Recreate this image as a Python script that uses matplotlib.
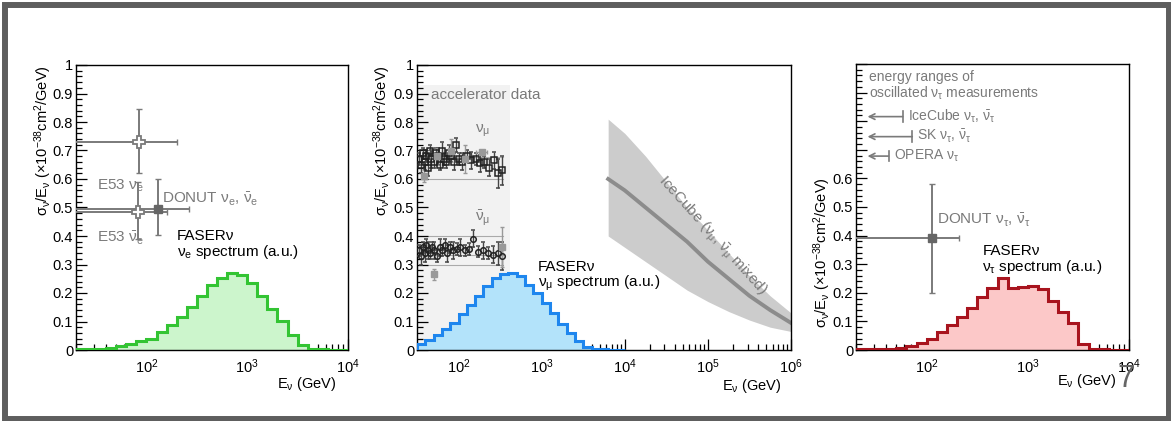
import numpy as np
import matplotlib.pyplot as plt
from matplotlib.ticker import LogLocator, NullFormatter, MultipleLocator, FuncFormatter
from matplotlib.patches import Rectangle

plt.rcParams['font.family'] = ['Liberation Sans', 'DejaVu Sans']
plt.rcParams['mathtext.fontset'] = 'custom'
plt.rcParams['mathtext.rm'] = 'Liberation Sans'
plt.rcParams['mathtext.it'] = 'Liberation Sans:italic'
plt.rcParams['mathtext.bf'] = 'Liberation Sans:bold'

W, H = 1171, 421

# FASERnu spectra (a.u.), 10 log bins per decade
nue_edges_exp = np.arange(13, 41) / 10.0
nue_spec = [0.003, 0.004, 0.005, 0.008, 0.013, 0.020, 0.030, 0.039, 0.064, 0.087,
            0.117, 0.151, 0.190, 0.229, 0.253, 0.269, 0.263, 0.234, 0.190, 0.144,
            0.102, 0.052, 0.016, 0.004, 0.002, 0.001, 0.001]
numu_edges_exp = np.arange(15, 41) / 10.0
numu_spec = [0.020, 0.036, 0.052, 0.072, 0.096, 0.127, 0.157, 0.190, 0.225, 0.253,
             0.268, 0.270, 0.259, 0.229, 0.199, 0.165, 0.129, 0.090, 0.060, 0.030,
             0.012, 0.004, 0.002, 0.001, 0.001]
nutau_edges_exp = np.arange(13, 41) / 10.0
nutau_spec = [0.002, 0.003, 0.004, 0.005, 0.008, 0.015, 0.025, 0.040, 0.063, 0.087,
              0.114, 0.147, 0.187, 0.217, 0.253, 0.218, 0.221, 0.223, 0.212, 0.170,
              0.133, 0.096, 0.020, 0.005, 0.002, 0.001, 0.001]

# panel 1: E53 nu_e, E53 nubar_e, DONUT
e_E = [85, 83, 130]
e_xs = [0.73, 0.485, 0.495]
e_Elo = [10, 10, 10]
e_Ehi = [200, 160, 265]
e_xslo = [0.62, 0.39, 0.405]
e_xshi = [0.845, 0.59, 0.60]

# panel 2: accelerator nu_mu / nubar_mu data
numu_E = [33, 35, 37, 39, 41, 43, 45, 47, 50, 53, 56, 59, 63, 67, 71, 76, 81, 87,
          93, 100, 110, 125, 140, 160, 180, 205, 235, 265, 300, 330]
numu_xs = [0.67, 0.65, 0.69, 0.66, 0.68, 0.64, 0.70, 0.67, 0.66, 0.69, 0.68, 0.65,
           0.70, 0.67, 0.66, 0.69, 0.68, 0.66, 0.72, 0.67, 0.66, 0.68, 0.665, 0.67,
           0.655, 0.66, 0.64, 0.665, 0.62, 0.63]
numu_err = [0.02, 0.03, 0.02, 0.03, 0.02, 0.03, 0.02, 0.03, 0.02, 0.02, 0.03, 0.02,
            0.03, 0.02, 0.02, 0.03, 0.02, 0.03, 0.025, 0.02, 0.03, 0.02, 0.03, 0.02,
            0.03, 0.02, 0.03, 0.03, 0.05, 0.05]
numu2_E = [38, 55, 80, 120, 190]
numu2_xs = [0.61, 0.68, 0.70, 0.67, 0.695]
numu2_err = [0.02, 0.03, 0.04, 0.05, 0.0]
numu2_Eerr = [0, 0, 0, 0, 30]
nubar_E = [33, 35, 37, 39, 41, 43, 45, 48, 51, 55, 59, 63, 68, 73, 79, 86, 95, 105,
           118, 135, 150, 170, 195, 225, 260, 300, 330]
nubar_xs = [0.35, 0.33, 0.36, 0.34, 0.37, 0.35, 0.34, 0.36, 0.35, 0.33, 0.36, 0.35,
            0.37, 0.34, 0.36, 0.35, 0.355, 0.36, 0.35, 0.355, 0.39, 0.345, 0.35,
            0.34, 0.335, 0.34, 0.33]
nubar_err = [0.02, 0.03, 0.02, 0.03, 0.02, 0.03, 0.02, 0.02, 0.03, 0.02, 0.03, 0.02,
             0.02, 0.03, 0.02, 0.03, 0.02, 0.03, 0.02, 0.02, 0.03, 0.02, 0.03, 0.02,
             0.03, 0.04, 0.05]
nubar2_E = [50, 330]
nubar2_xs = [0.265, 0.36]
nubar2_err = [0.02, 0.07]
acc_lines = [0.6, 0.677, 0.3, 0.334, 0.4]

# IceCube band
ic_logE = [3.8, 4.0, 4.25, 4.5, 4.75, 5.0, 5.25, 5.5, 5.75, 6.0]
ic_hi = [0.81, 0.76, 0.68, 0.59, 0.50, 0.42, 0.34, 0.26, 0.19, 0.13]
ic_mid = [0.60, 0.56, 0.50, 0.44, 0.38, 0.31, 0.25, 0.19, 0.14, 0.095]
ic_lo = [0.40, 0.36, 0.31, 0.26, 0.21, 0.17, 0.135, 0.105, 0.08, 0.065]

# panel 3: oscillated nu_tau ranges and DONUT
osc_names = ['IceCube ν$_\\mathregular{τ}$, $\\mathregular{\\bar{ν}_τ}$',
             'SK ν$_\\mathregular{τ}$, $\\mathregular{\\bar{ν}_τ}$',
             'OPERA ν$_\\mathregular{τ}$']
osc_Elo = [26, 26, 26]
osc_Ehi = [58, 72, 42]
osc_y = [0.816, 0.746, 0.678]
tau_E, tau_xs = 113, 0.39
tau_Elo, tau_Ehi = 10, 210
tau_xslo, tau_xshi = 0.20, 0.58

GRAY = '#7a7a7a'
YLABEL = 'σ$_\\mathregular{ν}$/E$_\\mathregular{ν}$ (×10$^\\mathregular{-38}$cm$^\\mathregular{2}$/GeV)'


def px_axes(x0, y0, x1, y1):
    return [x0 / W, 1 - y1 / H, (x1 - x0) / W, (y1 - y0) / H]


def style(ax, xlim, ylabmax):
    ax.set_xscale('log')
    ax.set_xlim(*xlim)
    ax.set_ylim(0, 1)
    ax.yaxis.set_major_locator(MultipleLocator(0.1))
    ax.yaxis.set_minor_locator(MultipleLocator(0.02))
    ax.yaxis.set_major_formatter(FuncFormatter(
        lambda v, p: ('%g' % round(v, 2)) if v <= ylabmax + 1e-6 else ''))
    ax.xaxis.set_major_locator(LogLocator(base=10, numticks=20))
    ax.xaxis.set_minor_locator(LogLocator(base=10, subs=np.arange(2, 10), numticks=50))
    ax.xaxis.set_minor_formatter(NullFormatter())
    ax.tick_params(which='both', direction='in', top=False, right=False,
                   labelsize=10.5, width=0.9)
    ax.tick_params(which='major', length=8)
    ax.tick_params(which='minor', length=4)
    ax.tick_params(axis='y', pad=2)
    ax.tick_params(axis='x', pad=5)
    for s in ax.spines.values():
        s.set_linewidth(1.0)


def spectrum(ax, edges_exp, vals, edge, fill):
    edges = 10 ** edges_exp
    ax.stairs(vals, edges, fill=True, color=fill, zorder=2)
    ax.stairs(vals, edges, color=edge, lw=2.2, zorder=3)


fig = plt.figure(figsize=(W / 100, H / 100), dpi=100)

# ---- panel 1: nu_e
ax1 = fig.add_axes(px_axes(76, 65, 348, 350))
style(ax1, (20, 1e4), 1.0)
spectrum(ax1, nue_edges_exp, nue_spec, '#33c433', '#ccf5cc')
e = np.array(e_E); xs = np.array(e_xs)
ax1.errorbar(e, xs, xerr=[e - np.array(e_Elo), np.array(e_Ehi) - e],
             yerr=[xs - np.array(e_xslo), np.array(e_xshi) - xs],
             fmt='none', ecolor=GRAY, elinewidth=1.4, capsize=2.5, zorder=4)
ax1.plot(e[:2], xs[:2], 'P', ms=8, mfc='white', mec=GRAY, mew=1.3, zorder=5)
ax1.plot(e[2:], xs[2:], 's', ms=6, color='#666666', zorder=5)
ax1.text(32, 0.575, 'E53 ν$_\\mathregular{e}$', color=GRAY, fontsize=11, va='center')
ax1.text(32, 0.39, 'E53 $\\mathregular{\\bar{ν}_e}$', color=GRAY, fontsize=11, va='center')
ax1.text(143, 0.53, 'DONUT ν$_\\mathregular{e}$, $\\mathregular{\\bar{ν}_e}$', color=GRAY,
         fontsize=11, va='center')
ax1.text(200, 0.40, 'FASERν', fontsize=11, va='center')
ax1.text(200, 0.345, 'ν$_\\mathregular{e}$ spectrum (a.u.)', fontsize=11, va='center')

# ---- panel 2: nu_mu
ax2 = fig.add_axes(px_axes(417, 65, 791, 350))
style(ax2, (10 ** 1.5, 1e6), 1.0)
ax2.fill_between([10 ** 1.5, 420], 0, 0.93, color='#f2f2f2', lw=0, zorder=0)
ax2.fill_between(10 ** np.array(ic_logE), ic_lo, ic_hi, color='#cccccc', lw=0, zorder=1)
ax2.plot(10 ** np.array(ic_logE), ic_mid, color='#8c8c8c', lw=2.8, zorder=1.5)
for yv in acc_lines:
    ax2.plot([10 ** 1.5, 345], [yv, yv], color='#aaaaaa', lw=0.8, zorder=1.2)
ax2.errorbar(numu_E, numu_xs, yerr=numu_err, fmt='s', ms=4, mfc='none', mew=1.1,
             mec='#222222', ecolor='#444444', elinewidth=1.0, capsize=1.5, zorder=3)
ax2.errorbar(numu2_E, numu2_xs, yerr=numu2_err, xerr=numu2_Eerr,
             fmt='s', ms=4, color='#999999', elinewidth=1.0, capsize=1.5, zorder=3)
ax2.errorbar(nubar_E, nubar_xs, yerr=nubar_err, fmt='o', ms=4, mfc='none', mew=1.1,
             mec='#222222', ecolor='#444444', elinewidth=1.0, capsize=1.5, zorder=3)
ax2.errorbar(nubar2_E, nubar2_xs, yerr=nubar2_err, fmt='s', ms=4, color='#999999',
             elinewidth=1.0, capsize=1.5, zorder=3)
spectrum(ax2, numu_edges_exp, numu_spec, '#1e86ee', '#b3e3fa')
ax2.text(47, 0.895, 'accelerator data', color=GRAY, fontsize=11, va='center')
ax2.text(195, 0.77, 'ν$_\\mathregular{μ}$', color=GRAY, fontsize=11, ha='center', va='center')
ax2.text(195, 0.46, '$\\mathregular{\\bar{ν}_μ}$', color=GRAY, fontsize=11, ha='center', va='center')
ax2.text(900, 0.29, 'FASERν', fontsize=11, va='center')
ax2.text(900, 0.235, 'ν$_\\mathregular{μ}$ spectrum (a.u.)', fontsize=11, va='center')
ax2.text(10 ** 5.05, 0.40, 'IceCube (ν$_\\mathregular{μ}$, $\\mathregular{\\bar{ν}_μ}$ mixed)',
         color=GRAY, fontsize=11, rotation=-48, ha='center', va='center',
         rotation_mode='anchor')

# ---- panel 3: nu_tau
ax3 = fig.add_axes(px_axes(856, 64, 1129, 350))
style(ax3, (20, 1e4), 0.6)
spectrum(ax3, nutau_edges_exp, nutau_spec, '#a8141e', '#fcc8c8')
ax3.errorbar([tau_E], [tau_xs], xerr=[[tau_E - tau_Elo], [tau_Ehi - tau_E]],
             yerr=[[tau_xs - tau_xslo], [tau_xshi - tau_xs]], fmt='s', ms=6,
             color='#666666', ecolor=GRAY, elinewidth=1.4, capsize=2.5, zorder=4)
ax3.text(27, 0.955, 'energy ranges of', color=GRAY, fontsize=10, va='center')
ax3.text(27, 0.899, 'oscillated ν$_\\mathregular{τ}$ measurements', color=GRAY,
         fontsize=10, va='center')
for name, lo, hi, yv in zip(osc_names, osc_Elo, osc_Ehi, osc_y):
    ax3.annotate('', xy=(lo, yv), xytext=(hi, yv),
                 arrowprops=dict(arrowstyle='->', color=GRAY, lw=1.2,
                                 shrinkA=0, shrinkB=0, mutation_scale=10))
    ax3.plot([hi, hi], [yv - 0.018, yv + 0.018], color=GRAY, lw=1.2)
    ax3.text(hi * 1.12, yv, name, color=GRAY, fontsize=10, va='center')
ax3.text(126, 0.455, 'DONUT ν$_\\mathregular{τ}$, $\\mathregular{\\bar{ν}_τ}$', color=GRAY,
         fontsize=11, va='center')
ax3.text(355, 0.345, 'FASERν', fontsize=11, va='center')
ax3.text(355, 0.29, 'ν$_\\mathregular{τ}$ spectrum (a.u.)', fontsize=11, va='center')

# axis titles (ROOT style, right/top aligned)
for xc, ytop in [(43, 65), (382, 65), (822, 177)]:
    fig.text(xc / W, 1 - ytop / H, YLABEL, rotation=90, ha='center', va='top',
             fontsize=10.5)
for xr, yc in [(337, 384), (782, 386), (1117, 381)]:
    fig.text(xr / W, 1 - yc / H, 'E$_\\mathregular{ν}$ (GeV)', ha='right', va='center',
             fontsize=10.5)

# slide frame and page number
fig.add_artist(Rectangle((5 / W, 2.5 / H), 1163.5 / W, 413.5 / H, transform=fig.transFigure,
                         fill=False, lw=4.3, ec='#5e5e5e'))
fig.text(1126 / W, 1 - 379 / H, '7', fontsize=22, color='#666666', ha='center', va='center')

fig.savefig('out.png', dpi=100)
